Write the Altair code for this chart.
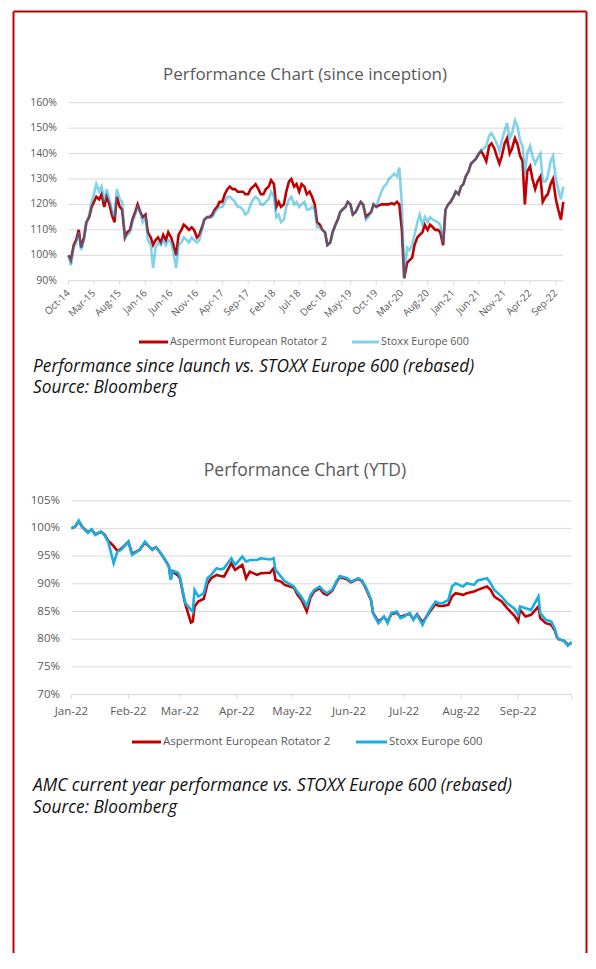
import altair as alt
import pandas as pd

# ---------------- Chart 1: performance since inception (values on 1st and 15th of each month) ----------------
fund_2014 = [100, 98, 104, 106, 110, 103]
stoxx_2014 = [100, 96, 103, 105, 109, 102]
fund_2015 = [107, 113, 115, 119, 121, 123, 122, 124, 119, 123, 120, 116, 113, 123, 119, 118, 107, 109, 110, 114, 117, 120, 117, 115]
stoxx_2015 = [106, 113, 116, 121, 124, 128, 125, 127, 121, 126, 122, 118, 115, 126, 122, 121, 107, 108, 109, 113, 116, 119, 117, 113]
fund_2016 = [116, 109, 107, 104, 106, 107, 105, 108, 106, 109, 107, 104, 100, 108, 110, 112, 111, 110, 111, 110, 107, 108, 111, 114]
stoxx_2016 = [115, 106, 104, 95, 103, 105, 104, 106, 104, 106, 105, 101, 95, 104, 105, 107, 106, 105, 107, 106, 105, 106, 110, 114]
fund_2017 = [115, 115, 116, 118, 119, 121, 121, 124, 126, 127, 126, 126, 125, 125, 125, 124, 124, 126, 127, 128, 126, 124, 124, 126]
stoxx_2017 = [115, 115, 115, 117, 118, 119, 119, 121, 123, 123, 122, 121, 119, 119, 118, 116, 117, 120, 122, 123, 122, 120, 120, 121]
fund_2018 = [127, 129.5, 128, 119, 121, 119, 120, 125, 129, 130, 127, 128, 125, 128, 127, 124, 125, 123, 120, 113, 112, 110, 109, 104]
stoxx_2018 = [122, 125, 123, 115, 116, 113, 114, 119, 122, 123, 120, 121, 119, 120, 121, 118, 118, 119, 118, 111, 111, 110, 109, 104]
fund_2019 = [105, 109, 112, 114, 117, 118, 119, 121, 120, 116, 117, 119, 121, 120, 115, 116, 117, 120, 119, 119.5, 120, 120, 120, 120]
stoxx_2019 = [105, 109, 112, 114, 117, 118, 119, 121, 120, 116, 117, 119, 121, 120, 114, 115, 117, 120, 119, 122, 125, 127, 128, 130]
fund_2020 = [120.5, 120, 121, 120, 110, 91, 97, 98, 99, 104, 107, 108, 109, 112, 110, 112, 111, 110, 110, 109, 104, 118, 120, 121]
stoxx_2020 = [131, 132, 131, 134.5, 120, 91, 103, 102, 104, 108, 113, 116, 112, 115, 113, 115, 114, 113.5, 113, 112, 105, 118, 120, 121]
fund_2021 = [123, 125, 124, 127, 128, 131, 133, 136, 137, 138, 140, 141, 139, 137, 143, 144, 142, 139, 136, 139, 144, 146, 140, 142]
stoxx_2021 = [123, 125, 124, 127, 128, 131, 133, 136, 137, 138, 140, 141.5, 142, 143, 147, 148, 146, 144, 141, 145, 149, 152, 146, 148]
fund_2022 = [146, 144, 139, 137, 120, 133, 135, 130, 126, 129, 131, 121, 123, 124, 128, 130, 122, 118, 114, 121]
stoxx_2022 = [153, 151, 145, 143, 132, 140, 143, 139, 136, 138, 140, 129, 129, 131, 137, 139, 130, 126, 122, 127]

since_ticks = ["2014-10-01", "2015-03-01", "2015-08-01", "2016-01-01", "2016-06-01", "2016-11-01",
               "2017-04-01", "2017-09-01", "2018-02-01", "2018-07-01", "2018-12-01", "2019-05-01",
               "2019-10-01", "2020-03-01", "2020-08-01", "2021-01-01", "2021-06-01", "2021-11-01",
               "2022-04-01", "2022-09-01"]
since_tick_labels = ["Oct-14", "Mar-15", "Aug-15", "Jan-16", "Jun-16", "Nov-16", "Apr-17", "Sep-17",
                     "Feb-18", "Jul-18", "Dec-18", "May-19", "Oct-19", "Mar-20", "Aug-20", "Jan-21",
                     "Jun-21", "Nov-21", "Apr-22", "Sep-22"]
since_y_ticks = [90, 100, 110, 120, 130, 140, 150, 160]

# ---------------- Chart 2: YTD performance 2022 ----------------
ytd_dates = ["01-01", "01-03", "01-05", "01-07", "01-10", "01-12", "01-14", "01-17", "01-19", "01-21", "01-24", "01-26", "01-28",
             "02-01", "02-03", "02-07", "02-10", "02-14", "02-16", "02-18", "02-21", "02-23", "02-24", "02-25", "02-28",
             "03-01", "03-03", "03-04", "03-07", "03-08", "03-09", "03-11", "03-14", "03-16", "03-18", "03-21", "03-23", "03-25", "03-29", "03-31",
             "04-04", "04-06", "04-08", "04-12", "04-14", "04-19", "04-21", "04-22", "04-25", "04-27",
             "05-02", "05-04", "05-06", "05-09", "05-11", "05-13", "05-16", "05-18", "05-20", "05-23", "05-25", "05-27", "05-31",
             "06-02", "06-06", "06-08", "06-10", "06-13", "06-14", "06-16", "06-17", "06-20", "06-22", "06-24", "06-27", "06-29",
             "07-01", "07-04", "07-06", "07-08", "07-11", "07-13", "07-15", "07-18", "07-20", "07-22", "07-25", "07-27", "07-29",
             "08-02", "08-04", "08-08", "08-10", "08-15", "08-17", "08-19", "08-23", "08-26", "08-30",
             "09-01", "09-02", "09-05", "09-08", "09-12", "09-13", "09-16", "09-19", "09-21", "09-22", "09-23", "09-26", "09-28", "09-30"]
ytd_stoxx = [100, 100.3, 101.4, 100.2, 99.2, 99.8, 98.8, 99.4, 98.8, 97.6, 93.7, 95.8, 96.1,
             97.6, 95.2, 96.1, 97.6, 96.1, 96.6, 95.8, 94.3, 93.1, 90.7, 92.4, 92.0,
             91.3, 88.0, 86.5, 85.3, 85.0, 88.9, 87.7, 88.3, 91.0, 91.6, 92.8, 92.6, 92.8, 94.6, 93.4,
             94.9, 94.0, 94.3, 94.3, 94.6, 94.4, 94.6, 92.5, 91.3, 90.5,
             89.5, 88.5, 87.7, 86.0, 87.9, 88.9, 89.5, 88.8, 88.3, 89.0, 90.4, 91.4, 91.0,
             90.4, 91.0, 90.6, 89.5, 87.1, 84.7, 83.5, 82.9, 84.1, 82.9, 84.7, 85.0, 83.8,
             84.1, 84.7, 83.5, 84.4, 82.6, 84.0, 85.3, 86.8, 86.5, 86.5, 87.1, 89.5, 90.1,
             89.5, 90.1, 89.8, 90.6, 91.0, 90.1, 88.9, 87.7, 86.5, 85.5,
             84.4, 85.9, 85.6, 85.3, 87.7, 84.7, 83.5, 83.2, 81.8, 80.5, 80.0, 79.7, 78.8, 79.5]
ytd_fund = [100, 100.3, 101.3, 100.2, 99.3, 99.8, 98.9, 99.4, 98.9, 97.8, 96.8, 95.9, 96.3,
            97.6, 95.4, 96.1, 97.4, 96.2, 96.6, 95.8, 94.3, 93.2, 90.9, 92.2, 91.5,
            91.0, 87.7, 86.3, 83.0, 83.2, 85.9, 86.8, 87.3, 90.0, 91.0, 91.6, 91.4, 91.3, 93.7, 92.5,
            93.4, 91.0, 92.2, 91.6, 91.9, 92.0, 92.8, 90.7, 90.4, 89.8,
            89.3, 88.0, 87.2, 85.0, 87.5, 88.6, 89.2, 88.3, 88.0, 88.8, 90.2, 91.2, 90.8,
            90.3, 90.9, 90.5, 89.3, 87.0, 84.8, 83.7, 83.2, 84.0, 83.2, 84.5, 84.8, 84.0,
            84.3, 84.6, 83.6, 84.5, 83.0, 84.0, 85.0, 86.3, 86.0, 86.0, 86.2, 87.7, 88.3,
            88.0, 88.3, 88.6, 88.9, 89.5, 88.9, 87.7, 86.8, 85.6, 84.2,
            83.2, 85.3, 84.1, 84.4, 85.9, 83.8, 82.9, 82.6, 81.5, 80.4, 80.0, 79.7, 79.0, 79.3]
ytd_ticks = ["2022-01-01", "2022-02-01", "2022-03-01", "2022-04-01", "2022-05-01", "2022-06-01",
             "2022-07-01", "2022-08-01", "2022-09-01"]
ytd_tick_labels = ["Jan-22", "Feb-22", "Mar-22", "Apr-22", "May-22", "Jun-22", "Jul-22", "Aug-22", "Sep-22"]
ytd_axis_end = ["2022-09-30"]
ytd_y_ticks = [70, 75, 80, 85, 90, 95, 100, 105]

FUND = "Aspermont European Rotator 2"
STOXX = "Stoxx Europe 600"
TITLE1 = "Performance Chart (since inception)"
TITLE2 = "Performance Chart (YTD)"
CAPTION1 = "Performance since launch vs. STOXX Europe 600 (rebased)"
CAPTION2 = "AMC current year performance vs. STOXX Europe 600 (rebased)"
SOURCE = "Source: Bloomberg"

# ---------------- tables ----------------
since_dates = pd.date_range("2014-10-01", "2022-10-15", freq="SMS").strftime("%Y-%m-%d")
df_since = pd.DataFrame({
    "date": list(since_dates),
    "fund": fund_2014 + fund_2015 + fund_2016 + fund_2017 + fund_2018 + fund_2019 + fund_2020 + fund_2021 + fund_2022,
    "stoxx": stoxx_2014 + stoxx_2015 + stoxx_2016 + stoxx_2017 + stoxx_2018 + stoxx_2019 + stoxx_2020 + stoxx_2021 + stoxx_2022,
})
df_since_ticks = pd.DataFrame({"date": since_ticks, "label": since_tick_labels})
df_since_y = pd.DataFrame({"v": since_y_ticks, "label": [f"{v}%" for v in since_y_ticks]})

df_ytd = pd.DataFrame({"date": ["2022-" + d for d in ytd_dates], "fund": ytd_fund, "stoxx": ytd_stoxx})
df_ytd_ticks = pd.DataFrame({"date": ytd_ticks, "label": ytd_tick_labels})
df_ytd_tickmarks = pd.DataFrame({"date": ytd_ticks + ytd_axis_end})
df_ytd_y = pd.DataFrame({"v": ytd_y_ticks, "label": [f"{v}%" for v in ytd_y_ticks]})
one = pd.DataFrame({"k": [0]})

# ---------------- styling ----------------
FONT = "Open Sans"
RED = "#c00000"
BLUE1 = "#05a5d7"   # drawn at 50% opacity over the red line
BLUE2 = "#1aaee0"
GRID = "#d9d9d9"
LABEL = "#595959"
CAPTION_COLOR = "#111111"
W, H = 580, 945

# plot-area geometry (pixels within the chart)
P1_X0, P1_X1, P1_YT, P1_YB = 60.5, 555.3, 94.7, 272.7
P2_X0, P2_X1, P2_YT, P2_YB = 63.4, 563.5, 492.7, 686.6

xs1 = alt.Scale(domain=[alt.DateTime(year=2014, month=10, date=1, utc=True),
                        alt.DateTime(year=2022, month=10, date=15, utc=True)], range=[P1_X0, P1_X1])
ys1 = alt.Scale(domain=[90, 160], range=[P1_YB, P1_YT], zero=False, nice=False)
xs2 = alt.Scale(domain=[alt.DateTime(year=2022, month=1, date=1, utc=True),
                        alt.DateTime(year=2022, month=9, date=30, utc=True)], range=[P2_X0, P2_X1])
ys2 = alt.Scale(domain=[70, 105], range=[P2_YB, P2_YT], zero=False, nice=False)


def text_at(x, y, txt, size, color=LABEL, align="center", style="normal"):
    return alt.Chart(one).mark_text(align=align, baseline="middle", font=FONT, fontSize=size,
                                    color=color, fontStyle=style).encode(
        x=alt.value(x), y=alt.value(y), text=alt.value(txt))


def swatch(x0, x1, y, color, opacity=1.0):
    return alt.Chart(one).mark_rule(color=color, strokeWidth=3, opacity=opacity).encode(
        x=alt.value(x0), x2=alt.value(x1), y=alt.value(y))


layers = []

# frame
layers.append(alt.Chart(one).mark_rule(color=RED, strokeWidth=2).encode(x=alt.value(5.5), y=alt.value(3.5), y2=alt.value(H)))
layers.append(alt.Chart(one).mark_rule(color=RED, strokeWidth=2).encode(x=alt.value(578.5), y=alt.value(3.5), y2=alt.value(H)))
layers.append(alt.Chart(one).mark_rule(color=RED, strokeWidth=2).encode(x=alt.value(5.5), x2=alt.value(578.5), y=alt.value(3.5)))

# ---- chart 1 ----
layers.append(text_at(297, 67, TITLE1, 17))
layers.append(alt.Chart(df_since_y).mark_rule(color=GRID, strokeWidth=1).encode(
    y=alt.Y("v:Q", scale=ys1, axis=None), x=alt.value(P1_X0), x2=alt.value(P1_X1)))
layers.append(alt.Chart(df_since_y).mark_text(align="right", baseline="middle", font=FONT, fontSize=10.5, color=LABEL).encode(
    y=alt.Y("v:Q", scale=ys1, axis=None), x=alt.value(49), text="label:N"))
layers.append(alt.Chart(df_since_ticks).mark_rule(color=GRID, strokeWidth=1).encode(
    x=alt.X("date:T", scale=xs1, axis=None), y=alt.value(P1_YB), y2=alt.value(P1_YB + 4)))
layers.append(alt.Chart(df_since_ticks).mark_text(align="right", baseline="middle", angle=315, font=FONT,
                                                  fontSize=10, color=LABEL).encode(
    x=alt.X("date:T", scale=xs1, axis=None), y=alt.value(P1_YB + 11), text="label:N"))
layers.append(alt.Chart(df_since).mark_line(color=RED, strokeWidth=2.6).encode(
    x=alt.X("date:T", scale=xs1, axis=None), y=alt.Y("fund:Q", scale=ys1, axis=None)))
layers.append(alt.Chart(df_since).mark_line(color=BLUE1, strokeWidth=2.6, opacity=0.5).encode(
    x=alt.X("date:T", scale=xs1, axis=None), y=alt.Y("stoxx:Q", scale=ys1, axis=None)))
layers.append(swatch(131, 160, 334, RED))
layers.append(text_at(162, 334, FUND, 10.8, align="left"))
layers.append(swatch(344, 371, 334, BLUE1, 0.5))
layers.append(text_at(373, 334, STOXX, 10.8, align="left"))
layers.append(text_at(25, 359, CAPTION1, 17.3, color=CAPTION_COLOR, align="left", style="italic"))
layers.append(text_at(25, 380, SOURCE, 17.3, color=CAPTION_COLOR, align="left", style="italic"))

# ---- chart 2 ----
layers.append(text_at(297, 462.5, TITLE2, 17.5))
layers.append(alt.Chart(df_ytd_y).mark_rule(color=GRID, strokeWidth=1).encode(
    y=alt.Y("v:Q", scale=ys2, axis=None), x=alt.value(P2_X0), x2=alt.value(P2_X1)))
layers.append(alt.Chart(df_ytd_y).mark_text(align="right", baseline="middle", font=FONT, fontSize=11.5, color=LABEL).encode(
    y=alt.Y("v:Q", scale=ys2, axis=None), x=alt.value(52), text="label:N"))
layers.append(alt.Chart(df_ytd_tickmarks).mark_rule(color=GRID, strokeWidth=1).encode(
    x=alt.X("date:T", scale=xs2, axis=None), y=alt.value(P2_YB), y2=alt.value(P2_YB + 4)))
layers.append(alt.Chart(df_ytd_ticks).mark_text(align="center", baseline="middle", font=FONT,
                                                fontSize=11.5, color=LABEL).encode(
    x=alt.X("date:T", scale=xs2, axis=None), y=alt.value(704), text="label:N"))
layers.append(alt.Chart(df_ytd).mark_line(color=RED, strokeWidth=2.6).encode(
    x=alt.X("date:T", scale=xs2, axis=None), y=alt.Y("fund:Q", scale=ys2, axis=None)))
layers.append(alt.Chart(df_ytd).mark_line(color=BLUE2, strokeWidth=2.6).encode(
    x=alt.X("date:T", scale=xs2, axis=None), y=alt.Y("stoxx:Q", scale=ys2, axis=None)))
layers.append(swatch(124, 153, 734, RED))
layers.append(text_at(155, 734, FUND, 11.5, align="left"))
layers.append(swatch(348, 379, 734, BLUE2))
layers.append(text_at(381, 734, STOXX, 11.5, align="left"))
layers.append(text_at(25, 778, CAPTION2, 17.3, color=CAPTION_COLOR, align="left", style="italic"))
layers.append(text_at(25, 800, SOURCE, 17.3, color=CAPTION_COLOR, align="left", style="italic"))

chart = alt.layer(*layers).resolve_scale(x="independent", y="independent").properties(
    width=W, height=H, padding=0, background="white"
).configure_view(strokeWidth=0)

chart.save("out.html", embed_options={"renderer": "svg", "actions": False})
